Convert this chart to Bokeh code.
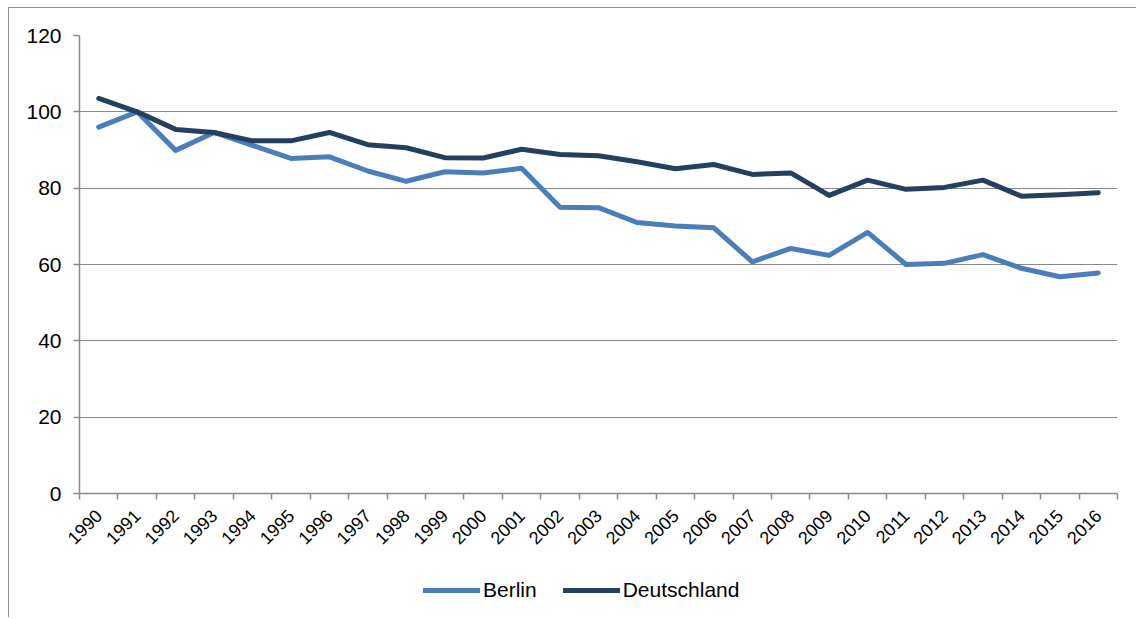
from bokeh.plotting import figure
from bokeh.layouts import column
from bokeh.models import FixedTicker, Legend, LegendItem, Range1d
from bokeh.embed import file_html
from bokeh.resources import INLINE

years = ["1990", "1991", "1992", "1993", "1994", "1995", "1996", "1997", "1998",
         "1999", "2000", "2001", "2002", "2003", "2004", "2005", "2006", "2007",
         "2008", "2009", "2010", "2011", "2012", "2013", "2014", "2015", "2016"]
berlin = [96.0, 100.0, 89.9, 94.6, 91.2, 87.8, 88.2, 84.5, 81.8, 84.3, 84.0, 85.2,
          75.0, 74.9, 71.0, 70.1, 69.6, 60.7, 64.2, 62.4, 68.4, 60.0, 60.3, 62.6,
          59.0, 56.8, 57.8]
deutschland = [103.5, 100.0, 95.4, 94.6, 92.4, 92.4, 94.6, 91.4, 90.6, 88.0, 87.9, 90.2,
               88.8, 88.5, 86.9, 85.1, 86.2, 83.6, 84.0, 78.1, 82.1, 79.7, 80.2, 82.1,
               77.9, 78.3, 78.8]
series_names = ["Berlin", "Deutschland"]
y_ticks = [0, 20, 40, 60, 80, 100, 120]

FONT = "Liberation Sans"
GRAY = "#898989"
C_BERLIN = "#4a7ebb"
C_DE = "#243f60"
LW = 5

n = len(years)
centers = [i + 0.5 for i in range(n)]
bounds = list(range(n + 1))

p = figure(width=1127, height=550, output_backend="svg", toolbar_location=None,
           x_range=Range1d(0, n), y_range=Range1d(0, 120),
           min_border_left=70, min_border_right=19, min_border_top=27,
           min_border_bottom=65)
p.outline_line_color = None

p.line(centers, berlin, line_color=C_BERLIN, line_width=LW,
       line_cap="round", line_join="round")
p.line(centers, deutschland, line_color=C_DE, line_width=LW,
       line_cap="round", line_join="round")

# x axis
p.xaxis.ticker = FixedTicker(ticks=centers, minor_ticks=bounds)
p.xaxis.major_label_overrides = {c: y for c, y in zip(centers, years)}
p.xaxis.major_tick_out = 0
p.xaxis.major_tick_in = 0
p.xaxis.minor_tick_out = 6
p.xaxis.minor_tick_in = 0
p.xaxis.minor_tick_line_color = GRAY
p.xaxis.minor_tick_line_width = 1.5
p.xaxis.axis_line_color = GRAY
p.xaxis.axis_line_width = 1.5
p.xaxis.major_label_orientation = 0.785398
p.xaxis.major_label_text_font = FONT
p.xaxis.major_label_text_font_size = "18px"
p.xaxis.major_label_text_color = "black"
p.xaxis.major_label_standoff = 13
p.xgrid.grid_line_color = None

# y axis
p.yaxis.ticker = FixedTicker(ticks=y_ticks)
p.yaxis.major_tick_out = 6
p.yaxis.major_tick_in = 0
p.yaxis.minor_tick_line_color = None
p.yaxis.major_tick_line_color = GRAY
p.yaxis.major_tick_line_width = 1.5
p.yaxis.axis_line_color = GRAY
p.yaxis.axis_line_width = 1.5
p.yaxis.major_label_text_font = FONT
p.yaxis.major_label_text_font_size = "21px"
p.yaxis.major_label_text_color = "black"
p.yaxis.major_label_standoff = 12
p.ygrid.grid_line_color = GRAY
p.ygrid.grid_line_width = 1.2

# legend strip below the chart (hidden copies of the series feed the legend)
lp = figure(width=1127, height=59, output_backend="svg", toolbar_location=None,
            x_range=Range1d(0, n), y_range=Range1d(0, 120),
            x_axis_location=None, y_axis_location=None,
            min_border_left=0, min_border_right=0, min_border_top=0,
            min_border_bottom=0)
lp.grid.visible = False
lp.outline_line_color = None
lr_b = lp.line(centers, berlin, line_color=C_BERLIN, line_width=LW, line_cap="round",
               visible=False)
lr_d = lp.line(centers, deutschland, line_color=C_DE, line_width=LW, line_cap="round",
               visible=False)

legend = Legend(items=[LegendItem(label=series_names[0], renderers=[lr_b]),
                       LegendItem(label=series_names[1], renderers=[lr_d])],
                orientation="horizontal", location=(344, 15))
legend.border_line_color = None
legend.background_fill_alpha = 0
legend.inactive_fill_alpha = 0
legend.label_text_font = FONT
legend.label_text_font_size = "21px"
legend.label_text_color = "black"
legend.glyph_width = 57
legend.glyph_height = 20
legend.label_standoff = 3
legend.spacing = 26
legend.margin = 0
legend.padding = 4
lp.add_layout(legend, "center")

layout = column(p, lp, spacing=0)
layout.styles = {"border-left": "1.5px solid #8e8e8e", "border-top": "1.5px solid #8e8e8e",
                 "margin": "7px 0 0 8px"}

open("out.html", "w").write(file_html(layout, INLINE))
